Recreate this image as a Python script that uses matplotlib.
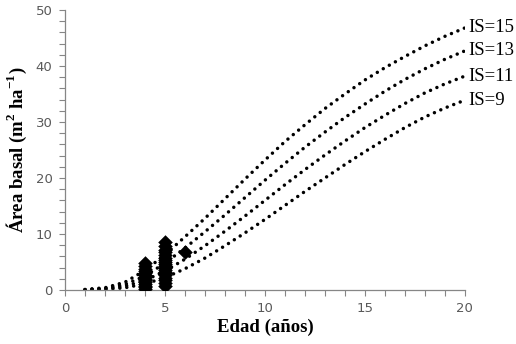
import matplotlib
matplotlib.use("Agg")
import matplotlib.pyplot as plt
from matplotlib.ticker import MultipleLocator

# ---- data ----
edad = [1, 2, 3, 4, 5, 6, 7, 8, 9, 10, 11, 12, 13, 14, 15, 16, 17, 18, 19, 20]
is15 = [0.1, 0.4, 1.4, 3.5, 6.3, 9.5, 12.8, 16.3, 19.8, 23.2, 26.5, 29.5, 32.4, 35.0, 37.5, 39.7, 41.7, 43.6, 45.3, 46.8]
is13 = [0.05, 0.3, 1.0, 2.5, 4.8, 7.5, 10.4, 13.4, 16.5, 19.6, 22.6, 25.5, 28.2, 30.8, 33.2, 35.5, 37.6, 39.5, 41.2, 42.7]
is11 = [0.03, 0.2, 0.7, 1.7, 3.4, 5.5, 7.9, 10.5, 13.2, 16.0, 18.8, 21.5, 24.1, 26.6, 29.0, 31.2, 33.3, 35.2, 36.8, 38.2]
is9 = [0.02, 0.1, 0.4, 1.1, 2.2, 3.8, 5.7, 7.9, 10.2, 12.6, 15.1, 17.6, 20.0, 22.4, 24.7, 26.9, 29.0, 30.9, 32.5, 33.9]
curve_labels = ["IS=15", "IS=13", "IS=11", "IS=9"]

obs_x4 = [4] * 14
obs_y4 = [0.2, 0.5, 0.8, 1.1, 1.4, 1.7, 2.0, 2.3, 2.6, 3.0, 3.4, 3.8, 4.3, 4.9]
obs_x5 = [5] * 19
obs_y5 = [0.8, 1.3, 1.8, 2.2, 2.6, 3.0, 3.3, 3.6, 4.0, 4.3, 4.6, 5.0, 5.4, 5.8, 6.2, 6.7, 7.2, 7.8, 8.6]
obs_x6 = [6]
obs_y6 = [6.7]

x_label = "Edad (años)"
y_label = "Área basal (m$^{\\mathbf{2}}$ ha$^{\\mathbf{-1}}$)"

# ---- figure ----
plt.rcParams["mathtext.fontset"] = "custom"
plt.rcParams["mathtext.rm"] = "Liberation Serif"
plt.rcParams["mathtext.bf"] = "Liberation Serif:bold"

fig = plt.figure(figsize=(5.16, 3.44), dpi=100)
ax = fig.add_axes([0.126, 0.157, 0.775, 0.814])

for ys in (is15, is13, is11, is9):
    ax.plot(edad, ys, color="black", lw=2.5, linestyle=(0, (0.01, 2.0)),
            dash_capstyle="round", solid_capstyle="round")

for ys, lab in zip((is15, is13, is11, is9), curve_labels):
    ax.text(edad[-1] + 0.15, ys[-1], lab, fontsize=13.5, family="Liberation Serif",
            va="center", ha="left", color="black")

mk = dict(marker="D", s=55, color="black", linewidths=0, zorder=3)
ax.scatter(obs_x4, obs_y4, **mk)
ax.scatter(obs_x5, obs_y5, **mk)
ax.scatter(obs_x6, obs_y6, **mk)

ax.set_xlim(0, 20)
ax.set_ylim(0, 50)
ax.xaxis.set_major_locator(MultipleLocator(5))
ax.xaxis.set_minor_locator(MultipleLocator(1))
ax.yaxis.set_major_locator(MultipleLocator(10))
ax.yaxis.set_minor_locator(MultipleLocator(2))

for s in ("top", "right"):
    ax.spines[s].set_visible(False)
for s in ("left", "bottom"):
    ax.spines[s].set_color("#868686")
    ax.spines[s].set_linewidth(0.9)

ax.tick_params(which="both", direction="out", color="#868686", width=0.8)
ax.tick_params(which="major", length=4, labelsize=9.5, labelcolor="#595959", pad=5)
ax.tick_params(which="minor", length=4)

ax.set_xlabel(x_label, fontsize=13.5, fontweight="bold", family="Liberation Serif", labelpad=2)
ax.set_ylabel(y_label, fontsize=13.5, fontweight="bold", family="Liberation Serif", labelpad=5)

fig.savefig("out.png", dpi=100)
